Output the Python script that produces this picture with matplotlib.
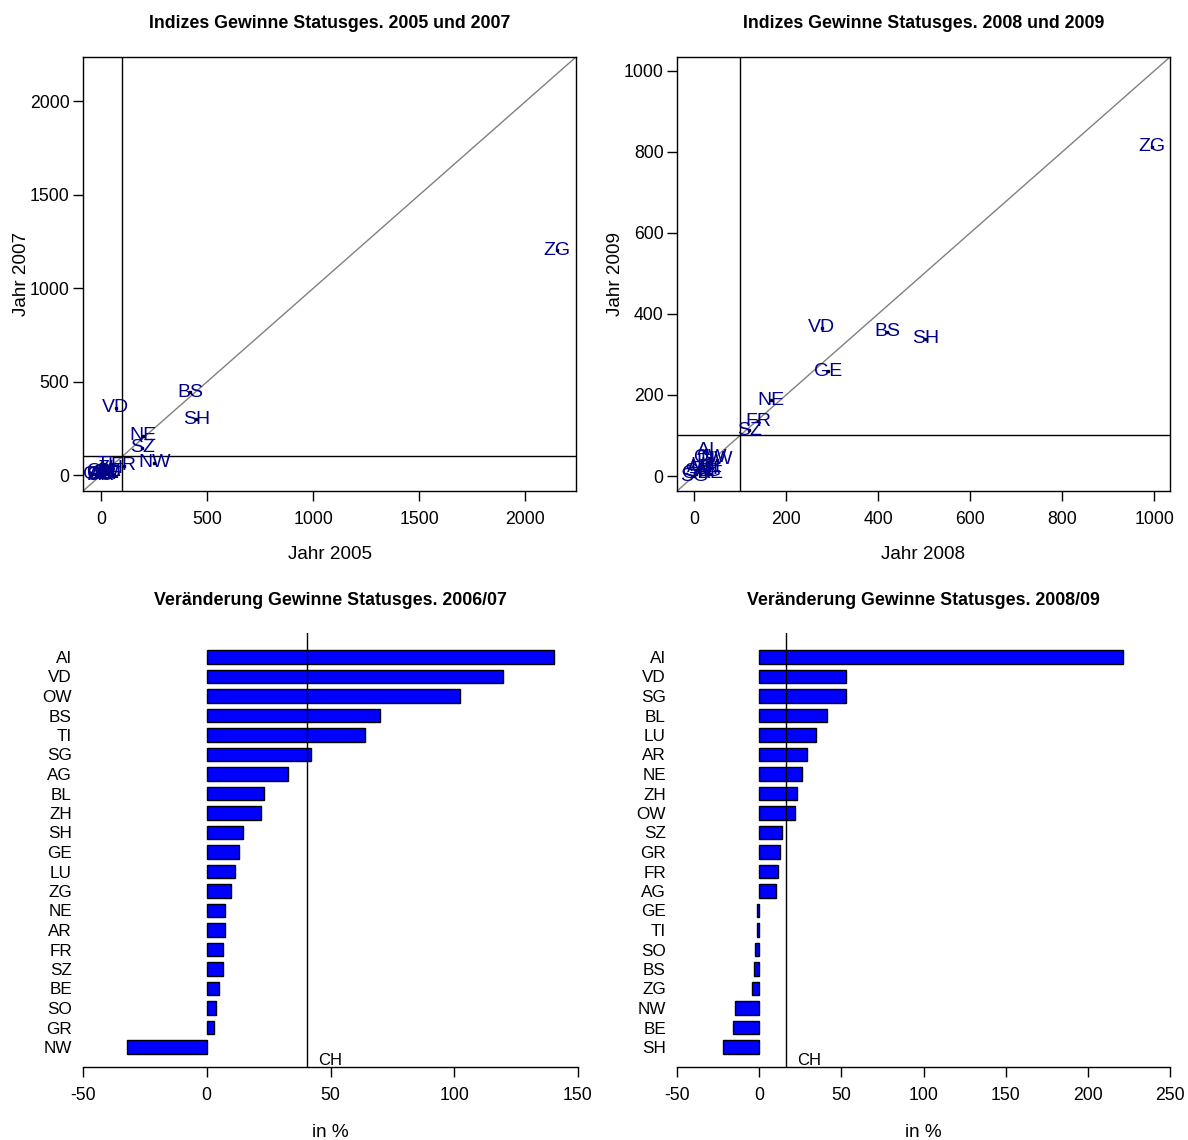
import numpy as np
import matplotlib
matplotlib.use("Agg")
import matplotlib.pyplot as plt

plt.rcParams['font.family'] = ['Liberation Sans', 'DejaVu Sans']
plt.rcParams['axes.unicode_minus'] = False

# Indizes 2005 / 2007
kt_a = ["ZG", "BS", "SH", "VD", "NE", "SZ", "NW", "FR",
        "AI", "OW", "TI", "SG", "AG", "BL", "ZH", "GE", "LU", "AR", "BE", "SO", "GR"]
x_2005 = [2148, 421, 449, 70, 196, 194, 251, 106,
          20, 10, 20, 30, 15, 40, 45, -20, 35, 0, 25, -5, 5]
y_2007 = [1204, 443, 298, 360, 212, 146, 65, 51,
          30, 20, 55, 15, 5, 20, 35, 5, 10, 0, 10, 0, 3]

# Indizes 2008 / 2009
kt_b = ["ZG", "VD", "BS", "SH", "GE", "NE", "FR", "SZ",
        "AI", "NW", "OW", "BL", "LU", "AR", "ZH", "TI", "SO", "GR", "AG", "SG", "BE"]
x_2008 = [995, 277, 420, 503, 292, 168, 139, 120,
          26, 50, 35, 30, 20, 15, 25, 40, 10, 5, 30, 0, 35]
y_2009 = [813, 366, 356, 339, 258, 187, 135, 113,
          64, 40, 45, 35, 25, 20, 15, 20, 10, 5, 10, 0, 5]

# Veraenderung 2006/07 in %
kt_c = ["AI", "VD", "OW", "BS", "TI", "SG", "AG", "BL", "ZH", "SH", "GE",
        "LU", "ZG", "NE", "AR", "FR", "SZ", "BE", "SO", "GR", "NW"]
ver_0607 = [140.3, 119.8, 102.4, 70.2, 64.1, 42.3, 32.7, 23.0, 21.8, 14.5, 12.9,
            11.3, 9.7, 7.3, 7.3, 6.5, 6.5, 4.8, 3.6, 2.8, -32.3]
ch_0607 = 40.4

# Veraenderung 2008/09 in %
kt_d = ["AI", "VD", "SG", "BL", "LU", "AR", "NE", "ZH", "OW", "SZ", "GR",
        "FR", "AG", "GE", "TI", "SO", "BS", "ZG", "NW", "BE", "SH"]
ver_0809 = [221.4, 52.9, 52.9, 41.4, 34.7, 29.2, 26.2, 23.1, 21.9, 14.0, 12.8,
            11.6, 10.3, -1.2, -1.5, -2.4, -3.0, -4.6, -14.6, -16.2, -21.8]
ch_0809 = 16.2

W, H = 1188, 1140
fig = plt.figure(figsize=(W / 100, H / 100), dpi=100)


def box(l, t, r, b):
    return [l / W, 1 - b / H, (r - l) / W, (b - t) / H]


def streu(ax, kt, x, y, lim, ticks, titel, xlab, ylab):
    ax.set_xlim(lim)
    ax.set_ylim(lim)
    ax.plot(lim, lim, color="#808080", lw=1, zorder=1)
    ax.axvline(100, color="black", lw=1, zorder=1)
    ax.axhline(100, color="black", lw=1, zorder=1)
    ax.plot(x, y, ls="none", marker="s", ms=1.6, color="black", zorder=2)
    for k, xi, yi in zip(kt, x, y):
        ax.text(xi, yi, k, color="#00008B", fontsize=14, ha="center",
                va="center", zorder=3)
    ax.set_xticks(ticks)
    ax.set_yticks(ticks)
    ax.tick_params(direction="out", length=7.2, width=1, labelsize=12.7)
    ax.tick_params(axis="x", pad=7)
    ax.tick_params(axis="y", pad=2.5)
    for s in ax.spines.values():
        s.set_linewidth(1)
    ax.text(0.5, 1.078, titel, transform=ax.transAxes, ha="center", va="center",
            fontsize=12.8, fontweight="bold")
    ax.text(0.5, -0.147, xlab, transform=ax.transAxes, ha="center", va="center",
            fontsize=13.6)
    ax.text(-0.124, 0.5, ylab, transform=ax.transAxes, ha="center", va="center",
            fontsize=13.6, rotation=90)


def balken(ax, kt, werte, ch, xlim, ticks, titel):
    n = len(kt)
    pos = np.arange(n)[::-1]
    ax.barh(pos, werte, height=0.67, color="#0000FF", edgecolor="black",
            linewidth=1, zorder=2)
    ax.set_ylim(-20 / 19.5, n - 1 + 24 / 19.5)
    ax.set_xlim(xlim)
    ax.axvline(ch, color="black", lw=1, zorder=3)
    ax.annotate("CH", xy=(ch, -20 / 19.5), xytext=(8.5, 1.5),
                textcoords="offset points", ha="left", va="baseline",
                fontsize=12)
    ax.set_yticks(pos)
    ax.set_yticklabels(kt)
    ax.set_xticks(ticks)
    for s in ["top", "right", "left"]:
        ax.spines[s].set_visible(False)
    ax.spines["bottom"].set_linewidth(1)
    ax.tick_params(axis="y", length=0, pad=8, labelsize=12.3)
    ax.tick_params(axis="x", direction="out", length=7.2, width=1, pad=7,
                   labelsize=12.7)
    ax.text(0.5, 1.074, titel, transform=ax.transAxes, ha="center", va="center",
            fontsize=12.8, fontweight="bold")
    ax.text(0.5, -0.15, "in %", transform=ax.transAxes, ha="center",
            va="center", fontsize=13.6)


ax1 = fig.add_axes(box(83, 57, 576, 491))
streu(ax1, kt_a, x_2005, y_2007, (-85, 2238), [0, 500, 1000, 1500, 2000],
      "Indizes Gewinne Statusges. 2005 und 2007", "Jahr 2005", "Jahr 2007")

ax2 = fig.add_axes(box(677, 57, 1170, 491))
streu(ax2, kt_b, x_2008, y_2009, (-37, 1034), [0, 200, 400, 600, 800, 1000],
      "Indizes Gewinne Statusges. 2008 und 2009", "Jahr 2008", "Jahr 2009")

ax3 = fig.add_axes(box(83, 633, 578, 1067))
balken(ax3, kt_c, ver_0607, ch_0607, (-50, 150), [-50, 0, 50, 100, 150],
       "Veränderung Gewinne Statusges. 2006/07")

ax4 = fig.add_axes(box(677, 633, 1170, 1067))
balken(ax4, kt_d, ver_0809, ch_0809, (-50, 250), [-50, 0, 50, 100, 150, 200, 250],
       "Veränderung Gewinne Statusges. 2008/09")

fig.savefig("out.png", dpi=100)
